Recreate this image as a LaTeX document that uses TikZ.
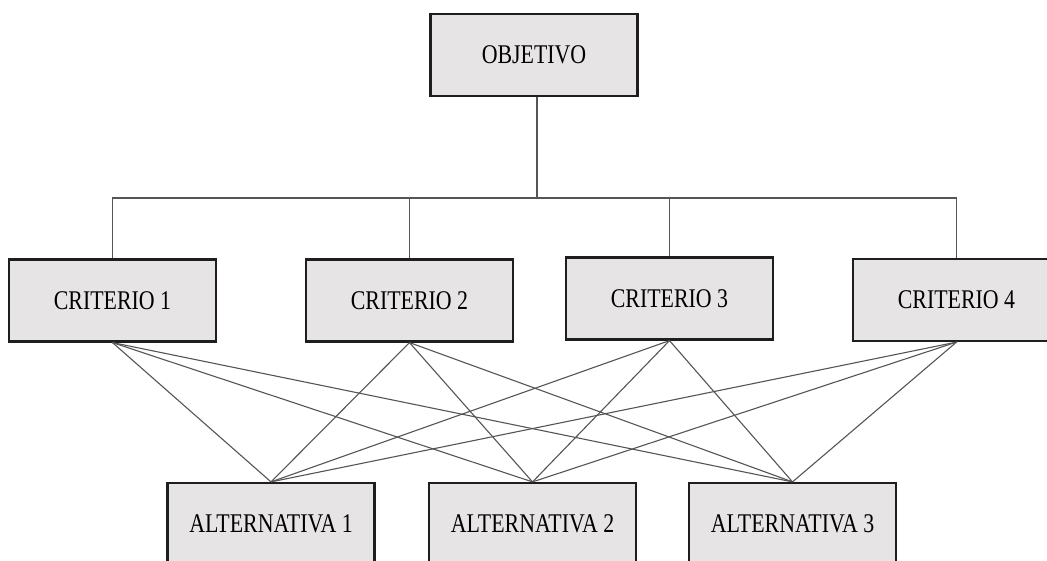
\documentclass[tikz,border=0pt]{standalone}
\usepackage{fontspec}
\newfontfamily\boxfont[FakeStretch=0.81]{Liberation Serif}
\definecolor{boxfill}{RGB}{230,228,229}
\definecolor{boxline}{RGB}{30,30,30}
\definecolor{linkline}{RGB}{85,85,85}
\begin{document}
\begin{tikzpicture}[x=1pt,y=-1pt,
  levelbox/.style={draw=boxline, line width=2.2pt, fill=boxfill,
    minimum width=207pt, minimum height=82pt, inner sep=0pt,
    font=\boxfont\fontsize{27}{27}\selectfont},
  link/.style={draw=linkline, line width=1.1pt}]
\clip (0,0) rectangle (1047,561);
\fill[white] (0,0) rectangle (1047,561);

% goal, criteria and alternatives
\node[levelbox] (obj) at (534,55) {OBJETIVO};
\node[levelbox] (c1) at (112.5,300.5) {CRITERIO 1};
\node[levelbox] (c2) at (409.5,300.5) {CRITERIO 2};
\node[levelbox] (c3) at (669.5,298.5) {CRITERIO 3};
\node[levelbox] (c4) at (956.5,300) {CRITERIO 4};
\node[levelbox] (a1) at (271,524) {ALTERNATIVA 1};
\node[levelbox] (a2) at (532.5,524) {ALTERNATIVA 2};
\node[levelbox] (a3) at (792.5,524) {ALTERNATIVA 3};

% goal to criteria: trunk and horizontal bus
\coordinate (bus) at (537,198);
\draw[link] ([xshift=3pt]obj.south) -- (bus);
\draw[link] (c1.north) |- (bus);
\draw[link] (c4.north) |- (bus);
\draw[link] (c2.north) -- (c2.north |- bus);
\draw[link] (c3.north) -- (c3.north |- bus);

% every criterion linked to every alternative
\foreach \c in {c1,c2,c3,c4}
  \foreach \a in {a1,a2,a3}
    \draw[link] (\c.south) -- (\a.north);
\end{tikzpicture}
\end{document}
